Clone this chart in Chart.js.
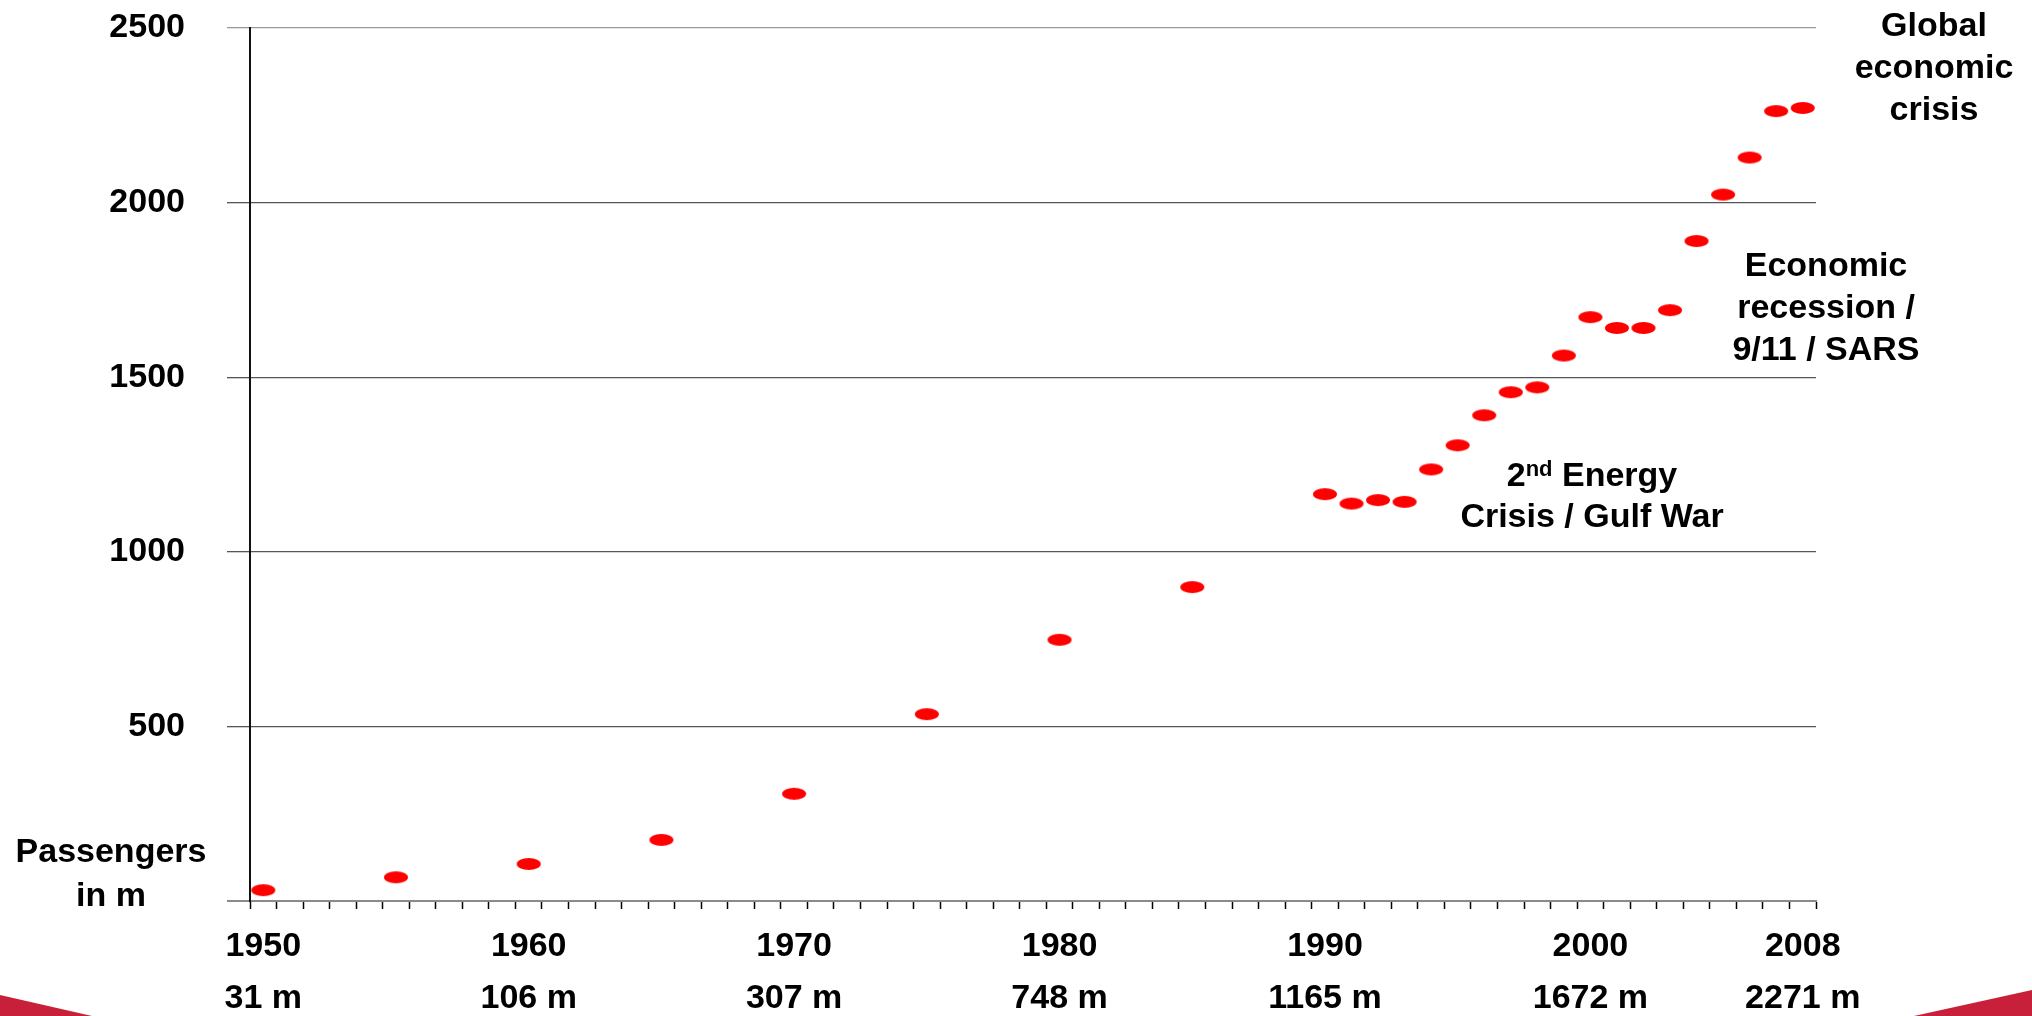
<!DOCTYPE html>
<html>
<head>
<meta charset="utf-8">
<script src="https://cdn.jsdelivr.net/npm/chart.js@4.4.1/dist/chart.umd.min.js"></script>
<style>
  html, body { margin: 0; padding: 0; background: #fff; }
  #wrap { width: 2032px; height: 1016px; }
</style>
</head>
<body>
<div id="wrap"><canvas id="passengers-chart" width="2032" height="1016"></canvas></div>
<script>
// passengers per year, in millions
const years = [1950, 1955, 1960, 1965, 1970, 1975, 1980, 1985,
  1990, 1991, 1992, 1993, 1994, 1995, 1996, 1997, 1998, 1999,
  2000, 2001, 2002, 2003, 2004, 2005, 2006, 2007, 2008];
const passengers = [31, 68, 106, 175, 307, 535, 748, 899,
  1165, 1138, 1148, 1143, 1236, 1305, 1391, 1457, 1471, 1562,
  1672, 1641, 1641, 1692, 1890, 2023, 2129, 2262, 2271];

// labelled years under the x axis
const labelYears = ['1950', '1960', '1970', '1980', '1990', '2000', '2008'];
const labelTotals = ['31 m', '106 m', '307 m', '748 m', '1165 m', '1672 m', '2271 m'];

// one category per year
const firstYear = 1950;
const lastYear = 2008;
const axisYears = [];
for (let yr = firstYear; yr <= lastYear; yr++) axisYears.push(String(yr));

const FONT = "'Liberation Sans', Arial, sans-serif";
Chart.defaults.font.family = FONT;

// red oval marker
const dot = document.createElement('canvas');
dot.width = 26;
dot.height = 14;
const dctx = dot.getContext('2d');
dctx.fillStyle = '#ff0000';
dctx.beginPath();
dctx.ellipse(13, 7, 12, 6, 0, 0, Math.PI * 2);
dctx.fill();

function centered(ctx, text, x, y) {
  ctx.textAlign = 'center';
  ctx.fillText(text, x, y);
}

const decor = {
  id: 'decor',
  beforeDraw(chart) {
    const c = chart.ctx;
    c.save();
    c.fillStyle = '#fff';
    c.fillRect(0, 0, chart.width, chart.height);
    // red slivers in the bottom corners
    c.fillStyle = '#c8203a';
    c.beginPath();
    c.moveTo(0, 995); c.lineTo(92, 1016); c.lineTo(0, 1016);
    c.closePath(); c.fill();
    c.beginPath();
    c.moveTo(1914, 1016); c.lineTo(2032, 990); c.lineTo(2032, 1016);
    c.closePath(); c.fill();
    c.restore();
  },
  afterDraw(chart) {
    const c = chart.ctx;
    c.save();
    c.fillStyle = '#000';
    c.textBaseline = 'alphabetic';
    c.font = 'bold 34px ' + FONT;

    centered(c, 'Passengers', 111, 862);
    centered(c, 'in m', 111, 906);

    centered(c, 'Global', 1934, 36);
    centered(c, 'economic', 1934, 78);
    centered(c, 'crisis', 1934, 120);

    centered(c, 'Economic', 1826, 276);
    centered(c, 'recession /', 1826, 318);
    centered(c, '9/11 / SARS', 1826, 360);

    // "2nd Energy" with superscript
    const big = 'bold 34px ' + FONT;
    const small = 'bold 22px ' + FONT;
    c.font = big;
    const w2 = c.measureText('2').width;
    const wRest = c.measureText(' Energy').width;
    c.font = small;
    const wNd = c.measureText('nd').width;
    let x = 1592 - (w2 + wNd + wRest) / 2;
    c.textAlign = 'left';
    c.font = big;
    c.fillText('2', x, 486);
    x += w2;
    c.font = small;
    c.fillText('nd', x, 476);
    x += wNd;
    c.font = big;
    c.fillText(' Energy', x, 486);
    centered(c, 'Crisis / Gulf War', 1592, 527);

    c.restore();
  }
};

const ctx = document.getElementById('passengers-chart').getContext('2d');
new Chart(ctx, {
  type: 'line',
  data: {
    labels: axisYears,
    datasets: [{
      label: 'Passengers in m',
      data: years.map((yr, i) => ({ x: String(yr), y: passengers[i] })),
      showLine: false,
      pointStyle: dot,
      pointRadius: 7,
      pointHoverRadius: 7,
      backgroundColor: '#ff0000',
      borderColor: '#ff0000',
    }],
  },
  options: {
    responsive: false,
    animation: false,
    events: [],
    layout: { padding: { top: 28, right: 216, bottom: 0, left: 0 } },
    plugins: {
      legend: { display: false },
      tooltip: { enabled: false },
    },
    scales: {
      x: {
        type: 'category',
        offset: true,
        grid: {
          offset: true,
          drawOnChartArea: false,
          drawTicks: true,
          tickLength: 8,
          tickColor: '#000',
          tickWidth: 1.5,
        },
        border: { display: true, color: '#8a8a8a', width: 2 },
        ticks: {
          autoSkip: false,
          maxRotation: 0,
          minRotation: 0,
          padding: 12,
          color: '#000',
          font: { size: 34, weight: 'bold', lineHeight: 1.53 },
          callback: (value, index) => {
            const k = labelYears.indexOf(axisYears[index]);
            return k >= 0 ? [labelYears[k], labelTotals[k]] : '';
          },
        },
        afterFit: (scale) => {
          scale.height = 115;
          scale.paddingLeft = 0;
          scale.paddingRight = 0;
        },
      },
      y: {
        min: 0,
        max: 2500,
        ticks: {
          stepSize: 500,
          padding: 42,
          color: '#000',
          font: { size: 34, weight: 'bold' },
          callback: (v) => (v === 0 ? '' : String(v)),
        },
        grid: {
          drawTicks: true,
          tickLength: 23,
          color: (c) => {
            const v = c.tick ? c.tick.value : null;
            if (v === 0) return '#8a8a8a';
            if (v === 2500) return '#9a9a9a';
            return '#555';
          },
          lineWidth: (c) => (c.tick && c.tick.value === 0 ? 2 : 1.3),
        },
        border: { display: true, color: '#111', width: 2 },
        afterFit: (scale) => {
          scale.width = 250;
          scale.paddingTop = 0;
          scale.paddingBottom = 0;
        },
      },
    },
  },
  plugins: [decor],
});
</script>
</body>
</html>
